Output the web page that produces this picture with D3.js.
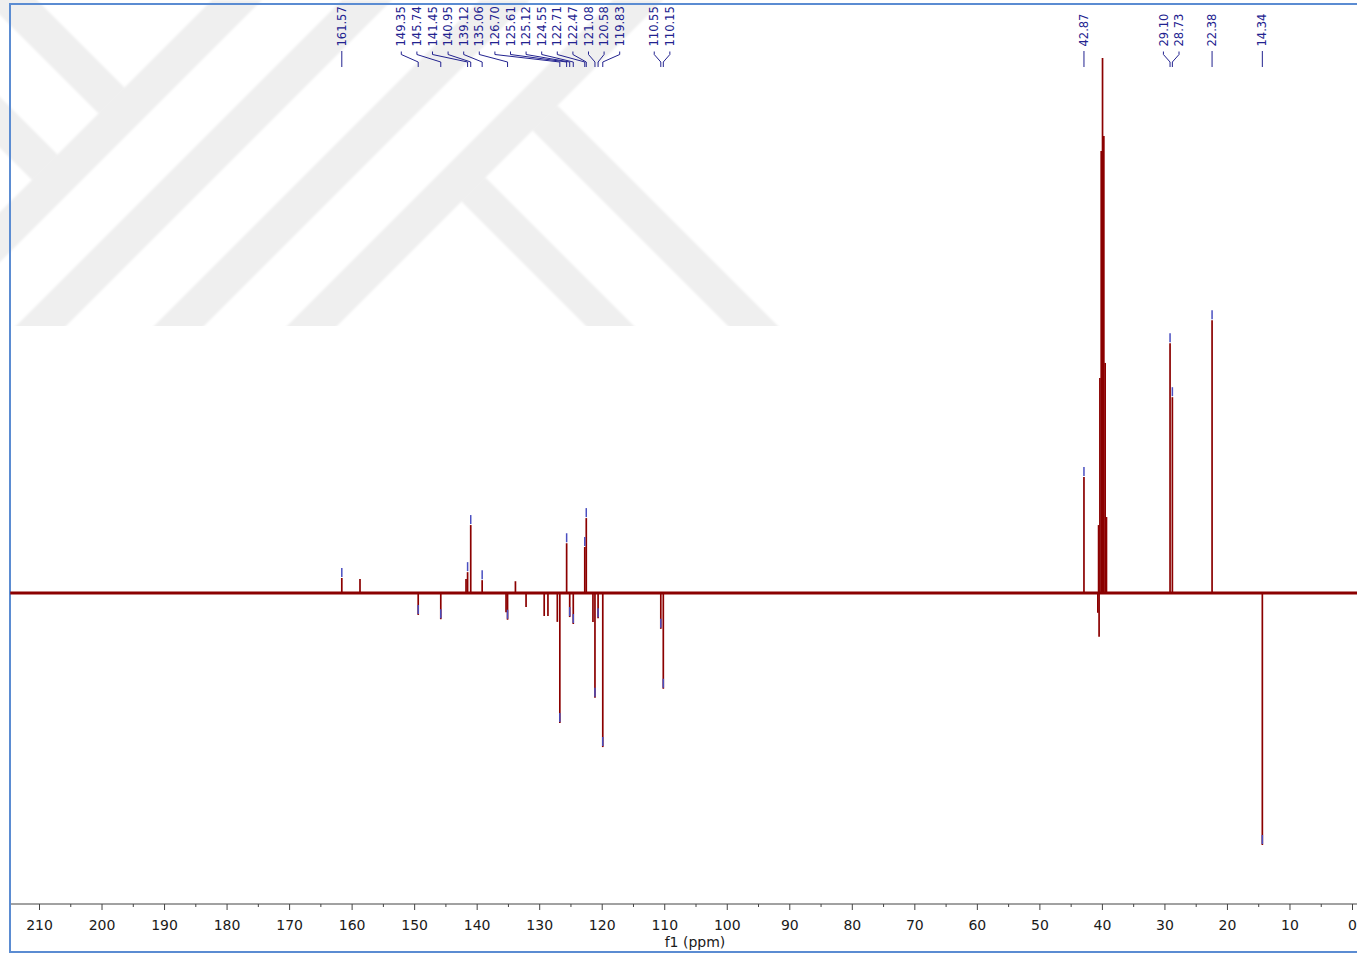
<!DOCTYPE html>
<html><head><meta charset="utf-8">
<script src="https://cdn.jsdelivr.net/npm/d3@7"></script>
<style>html,body{margin:0;padding:0;background:#fff;overflow:hidden}</style>
</head><body><svg id="c" width="1357" height="957"></svg>
<script>
// ---- data ----
const peakPpm = [161.57,158.66,149.35,145.74,141.70,141.45,140.95,139.12,135.30,135.06,133.80,132.10,129.20,128.60,127.10,126.70,125.61,125.12,124.55,122.71,122.47,121.40,121.08,120.58,119.83,110.55,110.15,42.87,40.65,40.53,40.45,40.32,40.11,39.90,39.69,39.48,39.27,29.10,28.73,22.38,14.34];
const peakIntensity = [2.8,2.6,-4.1,-4.9,2.6,3.9,12.7,2.4,-3.6,-5.0,2.2,-2.6,-4.3,-4.3,-5.4,-24.3,9.3,-4.5,-5.8,8.6,14.0,-5.4,-19.6,-4.7,-28.8,-6.7,-17.9,21.7,-3.7,12.7,-8.2,40.2,82.6,100,85.4,43.0,14.2,46.7,36.6,51.0,-47.1];
const labelPpm = [161.57,149.35,145.74,141.45,140.95,139.12,135.06,126.70,125.61,125.12,124.55,122.71,122.47,121.08,120.58,119.83,110.55,110.15,42.87,29.10,28.73,22.38,14.34];
const majorTicks = [210,200,190,180,170,160,150,140,130,120,110,100,90,80,70,60,50,40,30,20,10,0];
const minorTicks = [205,195,185,175,165,155,145,135,125,115,105,95,85,75,65,55,45,35,25,15,5];
const spectrumLimits = [214.6, -1.0];
const axisTitle = "f1 (ppm)";
// watermark bands (decoration)
const wmAscending = [[212,262],[342,392],[480,530],[613,663]];
const wmLeftDesc = [[-37,15],[97,148]];
const wmRightDesc = [[-452,-402],[-308,-260]];

const W = 1357, H = 957;
const svg = d3.select("#c");
const x = d3.scaleLinear().domain([210,0]).range([39,1352]);
const y = d3.scaleLinear().domain([0,100]).range([593,58]);

// watermark
const defs = svg.append("defs");
defs.append("clipPath").attr("id","wmclip").append("rect").attr("x",0).attr("y",0).attr("width",W).attr("height",326);
defs.append("filter").attr("id","soft").append("feGaussianBlur").attr("stdDeviation",1);
const wm = svg.append("g").attr("clip-path","url(#wmclip)").attr("fill","#efefef").attr("filter","url(#soft)");
wmAscending.forEach(([c1,c2]) => {
  wm.append("polygon").attr("points",[[c1,0],[c2,0],[c2-340,340],[c1-340,340]].map(p=>p.join(",")).join(" "));
});
wmLeftDesc.forEach(([d1,d2]) => {
  const A=[(212-d1)/2,(212+d1)/2], B=[(212-d2)/2,(212+d2)/2];
  wm.append("polygon").attr("points",[A,B,[B[0]-400,B[1]-400],[A[0]-400,A[1]-400]].map(p=>p.join(",")).join(" "));
});
wmRightDesc.forEach(([d1,d2]) => {
  const A=[(663-d1)/2,(663+d1)/2], B=[(663-d2)/2,(663+d2)/2];
  wm.append("polygon").attr("points",[A,B,[B[0]+400,B[1]+400],[A[0]+400,A[1]+400]].map(p=>p.join(",")).join(" "));
});

// frame
svg.append("rect").attr("x",10).attr("y",4).attr("width",1360).attr("height",948)
  .attr("fill","none").attr("stroke","#5b8cd2").attr("stroke-width",2);

// axis
const axisY = 904;
const font = "'DejaVu Sans', Verdana, sans-serif";
svg.append("line").attr("x1",11).attr("x2",W).attr("y1",axisY).attr("y2",axisY).attr("stroke","#444").attr("stroke-width",1);
const gMaj = svg.append("g").attr("transform",`translate(0,${axisY})`)
  .call(d3.axisBottom(x).tickValues(majorTicks).tickSize(6).tickPadding(10).tickFormat(d3.format("d")));
const gMin = svg.append("g").attr("transform",`translate(0,${axisY})`)
  .call(d3.axisBottom(x).tickValues(minorTicks).tickSize(3).tickFormat(""));
[gMaj,gMin].forEach(g=>{ g.select(".domain").remove(); g.selectAll("line").attr("stroke","#444"); });
gMaj.selectAll("text").attr("font-family",font).attr("font-size",14).attr("fill","#1a1a1a");
svg.append("text").attr("x",695).attr("y",947).attr("text-anchor","middle")
  .attr("font-family",font).attr("font-size",14).attr("fill","#1a1a1a").text(axisTitle);

// spectrum baseline
const red = "#8b0000";
svg.append("line").attr("x1",x(spectrumLimits[0])).attr("x2",x(spectrumLimits[1]))
  .attr("y1",y(0)).attr("y2",y(0)).attr("stroke",red).attr("stroke-width",2.8);
// peaks
const peaks = peakPpm.map((p,i)=>({ppm:p, v:peakIntensity[i]}));
svg.append("g").selectAll("line").data(peaks).join("line")
  .attr("x1",d=>x(d.ppm)).attr("x2",d=>x(d.ppm))
  .attr("y1",y(0)).attr("y2",d=>y(d.v))
  .attr("stroke",red).attr("stroke-width",1.7);

// peak-pick markers
const navy = "#22228f";
const picked = labelPpm.map(p=>peaks.find(d=>d.ppm===p));
svg.append("g").selectAll("line").data(picked).join("line")
  .attr("x1",d=>x(d.ppm)).attr("x2",d=>x(d.ppm))
  .attr("y1",d=>y(d.v)-10).attr("y2",d=>y(d.v)-1)
  .attr("stroke","#4a4fc0").attr("stroke-width",1.5);

// label layout: cluster overlapping labels, spread around cluster mid-range
const spacing = 15.6;
const items = labelPpm.map(p=>({ppm:p, px:x(p)})).sort((a,b)=>a.px-b.px);
let clusters = items.map(it=>[it]);
const place = c => { const mid=(c[0].px+c[c.length-1].px)/2; return c.map((it,i)=>mid+(i-(c.length-1)/2)*spacing); };
let changed = true;
while (changed) {
  changed = false;
  for (let i=0;i<clusters.length-1;i++) {
    const a = place(clusters[i]), b = place(clusters[i+1]);
    if (b[0]-a[a.length-1] < spacing) { clusters.splice(i,2,clusters[i].concat(clusters[i+1])); changed=true; break; }
  }
}
const lab = svg.append("g");
clusters.forEach(c=>{
  const pos = place(c);
  c.forEach((it,i)=>{
    const lx = pos[i];
    lab.append("text").attr("transform",`translate(${lx},46.5) rotate(-90)`)
      .attr("dy","0.36em").attr("font-family",font).attr("font-size",11.5)
      .attr("fill",navy).text(it.ppm.toFixed(2));
    const path = Math.abs(lx-it.px)<0.5
      ? `M${it.px},51 L${it.px},67`
      : `M${lx},51.5 L${lx},54.5 L${it.px},62 L${it.px},67`;
    lab.append("path").attr("d",path).attr("fill","none").attr("stroke",navy).attr("stroke-width",1);
  });
});
</script></body></html>
